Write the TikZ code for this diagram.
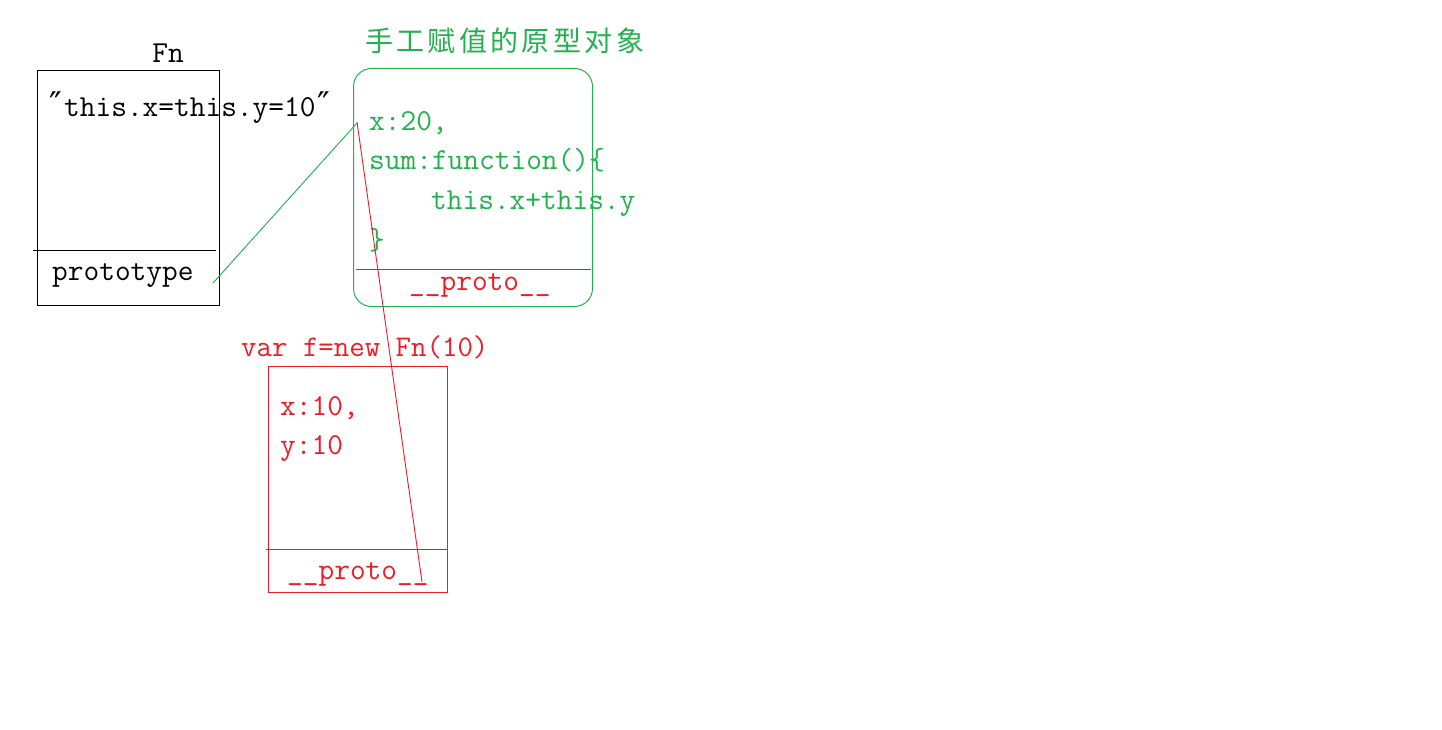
\documentclass[tikz,border=0pt]{standalone}
\usepackage{fontspec}
\newfontfamily\cjk[LetterSpace=12]{Noto Sans CJK SC}
\newfontfamily\dvs{DejaVu Sans}
\definecolor{pgreen}{RGB}{34,177,76}
\definecolor{pred}{RGB}{237,28,36}
\newcommand{\dprime}{\makebox[16pt][c]{\dvs\fontsize{34}{36}\selectfont ″}}
\begin{document}
\begin{tikzpicture}[x=1pt,y=-1pt,
  txt/.style={inner sep=0pt, font=\ttfamily\fontsize{30.5}{36}\selectfont},
  boxshape/.style={draw, line width=1pt, inner sep=0pt, anchor=north west},
  link/.style={line width=0.9pt}]
\useasboundingbox[fill=white] (0,0) rectangle (1442,730);

% Fn box
\node[boxshape, minimum width=182, minimum height=235] (fnbox) at (37,70) {};
\draw[line width=1pt] (33,250) -- (216,250);
\node[txt, anchor=base] (fnlabel) at (168,63) {Fn};
\node[txt, anchor=base west] (fnbody) at (48,117) {\dprime this.x=this.y=10\dprime};
\node[txt, anchor=base west] (fnproto) at (52,280) {prototype};

% prototype object box
\node[boxshape, draw=pgreen, rounded corners=18pt, minimum width=239, minimum height=238] (pbox) at (353,68) {};
\draw[pred, line width=1pt] (356,269) -- (591,269);
\node[inner sep=0pt, anchor=base west, text=pgreen, font=\cjk\fontsize{28}{34}\selectfont] (ptitle) at (365,52) {手工赋值的原型对象};
\node[txt, anchor=base west, text=pgreen] (p1) at (369,131) {x:20,};
\node[txt, anchor=base west, text=pgreen] (p2) at (369,170) {sum:function()\{};
\node[txt, anchor=base west, text=pgreen] (p3) at (431,210) {this.x+this.y};
\node[txt, anchor=base west, text=pgreen] (p4) at (369,249) {\}};
\node[txt, anchor=base west, text=pred] (pproto) at (409,290) {\_\_proto\_\_};

% instance box
\node[txt, anchor=base west, text=pred, font=\ttfamily\fontsize{30}{36}\selectfont] (flabel) at (241,356) {var f=new Fn(10)};
\node[boxshape, draw=pred, minimum width=179, minimum height=226] (fbox) at (268,366) {};
\draw[pred, line width=1pt] (266,549) -- (447,549);
\node[txt, anchor=base west, text=pred] (f1) at (280,415) {x:10,};
\node[txt, anchor=base west, text=pred] (f2) at (280,454) {y:10};
\node[txt, anchor=base west, text=pred] (fproto) at (287,579) {\_\_proto\_\_};

% connectors
\coordinate (protoStart) at (213,283);
\coordinate (protoObj) at (357,123);
\coordinate (chainTop) at (357,122);
\coordinate (chainEnd) at (422,582);
\draw[link, pgreen] (protoStart) -- (protoObj);
\draw[link, pred] (chainTop) -- (chainEnd);
\end{tikzpicture}
\end{document}
